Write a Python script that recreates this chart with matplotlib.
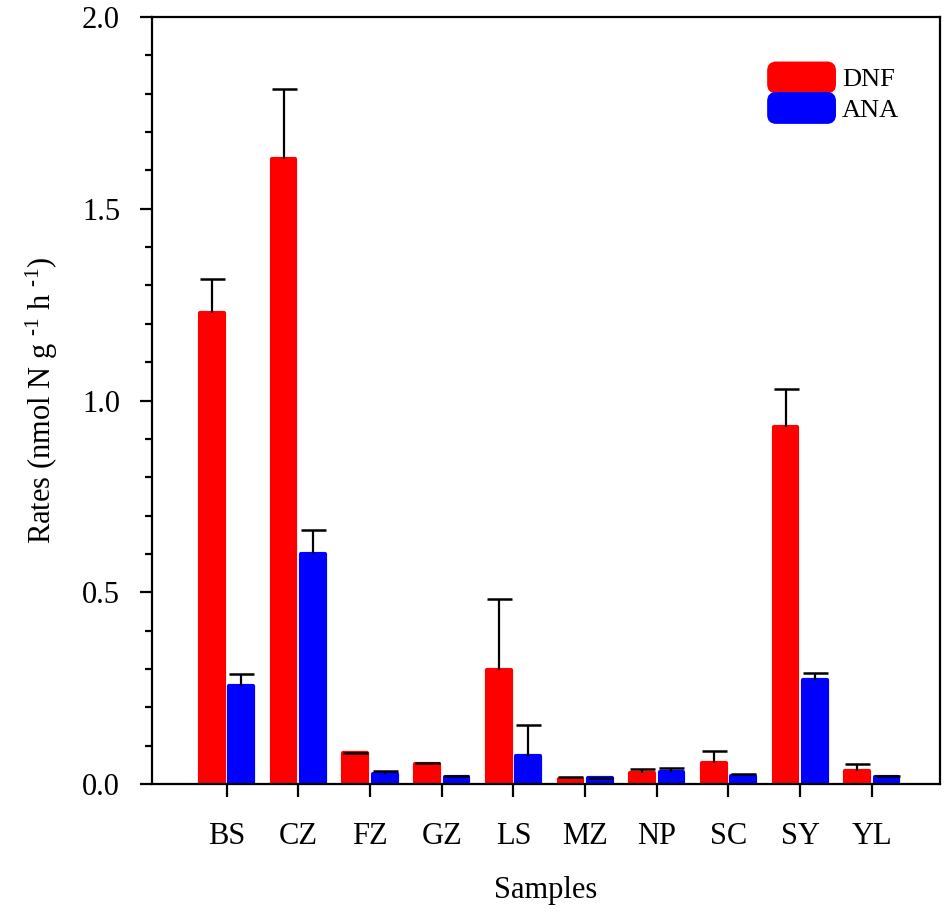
import matplotlib
matplotlib.use("Agg")
import matplotlib.pyplot as plt
import numpy as np
from matplotlib.ticker import MultipleLocator, FormatStrFormatter
from matplotlib.patches import FancyBboxPatch, Rectangle
from matplotlib.legend_handler import HandlerPatch

plt.rcParams['font.family'] = ['Liberation Serif', 'DejaVu Serif']
plt.rcParams['mathtext.fontset'] = 'custom'
plt.rcParams['mathtext.rm'] = 'Liberation Serif'
plt.rcParams['mathtext.it'] = 'Liberation Serif'

samples = ["BS", "CZ", "FZ", "GZ", "LS", "MZ", "NP", "SC", "SY", "YL"]
dnf = [1.229, 1.631, 0.080, 0.052, 0.297, 0.014, 0.029, 0.054, 0.932, 0.034]
dnf_err = [0.088, 0.180, 0.000, 0.003, 0.186, 0.004, 0.009, 0.031, 0.097, 0.018]
ana = [0.255, 0.600, 0.027, 0.019, 0.072, 0.016, 0.032, 0.022, 0.270, 0.018]
ana_err = [0.031, 0.062, 0.008, 0.001, 0.081, 0.001, 0.009, 0.004, 0.019, 0.002]

fig = plt.figure(figsize=(9.5, 9.14), dpi=100)
ax = fig.add_axes([0.16, 0.1422, 0.8295, 0.8392])

x = np.arange(len(samples))
w = 0.33
off = 0.205

b1 = ax.bar(x - off, dnf, w, color="#ff0000", edgecolor="#ff0000", linewidth=3, label="DNF", zorder=2)
b2 = ax.bar(x + off, ana, w, color="#0000ff", edgecolor="#0000ff", linewidth=3, label="ANA", zorder=2)
for p in list(b1) + list(b2):
    p.set_joinstyle("round")

# upper error bars only: stem + top cap
for xs, vals, errs in [(x - off, dnf, dnf_err), (x + off, ana, ana_err)]:
    vals = np.array(vals)
    errs = np.array(errs)
    ax.errorbar(xs, vals, yerr=[np.zeros(len(vals)), errs], fmt="none", ecolor="black",
                elinewidth=1.6, capsize=0, zorder=3)
    ax.plot(xs, vals + errs, ls="none", marker="_", ms=18, mew=1.8, color="black", zorder=3)

ax.set_xlim(-1.04, 9.95)
ax.set_ylim(0, 2.0)
ax.set_xticks(x)
ax.set_xticklabels(samples)
ax.yaxis.set_major_locator(MultipleLocator(0.5))
ax.yaxis.set_minor_locator(MultipleLocator(0.1))
ax.yaxis.set_major_formatter(FormatStrFormatter("%.1f"))

ax.tick_params(axis="both", which="major", labelsize=22, width=1.6, length=9, direction="out")
ax.tick_params(axis="y", which="major", pad=14)
ax.tick_params(axis="x", which="major", pad=18)
ax.tick_params(axis="y", which="minor", width=1.6, length=5, direction="out")
for s in ax.spines.values():
    s.set_linewidth(1.6)

ax.set_xlabel("Samples", fontsize=22, labelpad=18)
ax.set_ylabel(r"Rates (nmol N g $^{\text{-1}}$ h $^{\text{-1}}$)", fontsize=22, labelpad=16)


def rounded(legend, orig_handle, xdescent, ydescent, width, height, fontsize):
    return FancyBboxPatch((-xdescent, -ydescent + 1), width, height - 2,
                          boxstyle="round,pad=0,rounding_size=5")


leg = ax.legend([b1[0], b2[0]], ["DNF", "ANA"], loc="upper right", bbox_to_anchor=(0.978, 0.972),
                frameon=False, fontsize=19, handlelength=2.45, handleheight=1.4,
                labelspacing=0.0, handletextpad=0.3,
                handler_map={Rectangle: HandlerPatch(patch_func=rounded)})

fig.savefig("out.png", dpi=100)
